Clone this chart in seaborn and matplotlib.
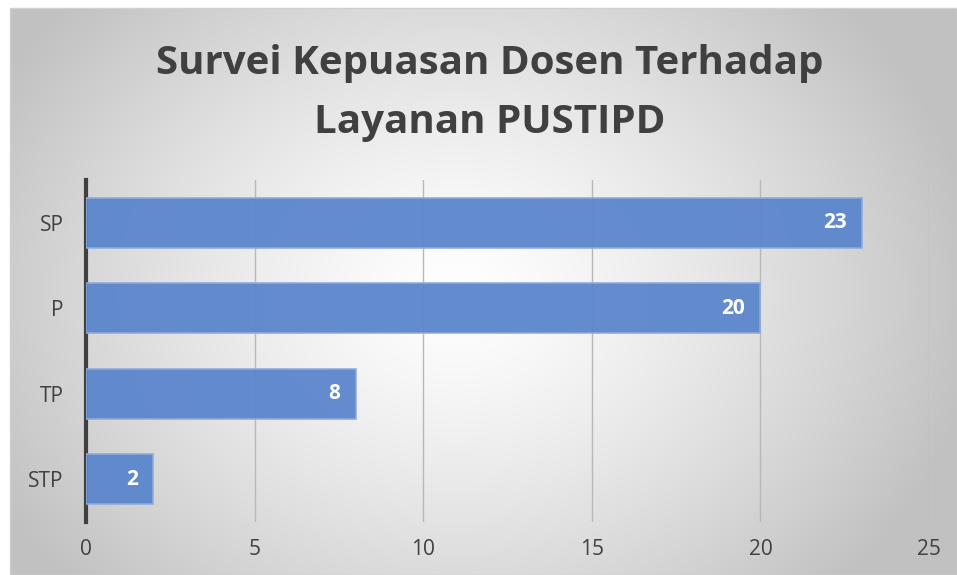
import numpy as np
import pandas as pd
import matplotlib
matplotlib.use("Agg")
import matplotlib.pyplot as plt
import seaborn as sns

categories = ["SP", "P", "TP", "STP"]
values = [23, 20, 8, 2]
x_ticks = [0, 5, 10, 15, 20, 25]
title = "Survei Kepuasan Dosen Terhadap\nLayanan PUSTIPD"

sns.set_theme(style="white")
plt.rcParams["font.family"] = ["Open Sans", "DejaVu Sans"]

W, H = 957, 575
fig = plt.figure(figsize=(W / 100, H / 100), dpi=100)
fig.patch.set_facecolor("white")

# radial gradient background frame
fx0, fy0 = 10 / W, 0.0
fw, fh = 1 - fx0, 1 - 8 / H
bg = fig.add_axes([fx0, fy0, fw, fh], zorder=0)
ny, nx = 300, 500
yy, xx = np.mgrid[0:ny, 0:nx]
cx, cy = nx * 0.47, ny * 0.50
r = np.sqrt(((xx - cx) / (nx * 0.55)) ** 2 + ((yy - cy) / (ny * 0.75)) ** 2)
r = np.clip(r, 0, 1)
shade = 1.0 - 0.24 * r ** 1.3
img = np.dstack([shade, shade, shade])
bg.imshow(img, aspect="auto", extent=[0, 1, 0, 1], interpolation="bilinear")
bg.set_xlim(0, 1)
bg.set_ylim(0, 1)
bg.axis("off")
# border
fig.add_artist(plt.Rectangle((fx0, fy0), fw, fh, transform=fig.transFigure,
                             fill=False, edgecolor="#d0d0d0", linewidth=1.0, zorder=1))

ax = fig.add_axes([86 / W, 1 - 522 / H, (929 - 86) / W, (522 - 180) / H], zorder=2)
ax.patch.set_alpha(0)

df = pd.DataFrame({"cat": categories, "val": values})
sns.barplot(data=df, x="val", y="cat", orient="h", ax=ax, color="#5b86cc",
            width=0.59, edgecolor="#8eaadc", linewidth=1.2, saturation=1, alpha=0.95,
            zorder=3)

ax.set_xlim(0, 25)
ax.set_xticks(x_ticks)
ax.set_xticklabels([str(t) for t in x_ticks])
ax.grid(axis="x", color="#b8b8b8", linewidth=1.0, zorder=0)
ax.set_axisbelow(True)
ax.set_xlabel("")
ax.set_ylabel("")
for s in ["top", "right", "bottom"]:
    ax.spines[s].set_visible(False)
ax.spines["left"].set_color("#404040")
ax.spines["left"].set_linewidth(3)
ax.tick_params(axis="both", length=0, labelsize=15, labelcolor="#404040")
ax.tick_params(axis="x", pad=12)
ax.tick_params(axis="y", pad=16)

for i, v in enumerate(values):
    ax.text(v - 0.45, i, str(v), ha="right", va="center", color="white",
            fontsize=15, fontweight="bold", zorder=5)

fig.text(490 / W, 1 - 93 / H, title, ha="center", va="center", fontsize=29,
         fontweight="bold", color="#404040", linespacing=1.65)

fig.savefig("out.png", dpi=100)
